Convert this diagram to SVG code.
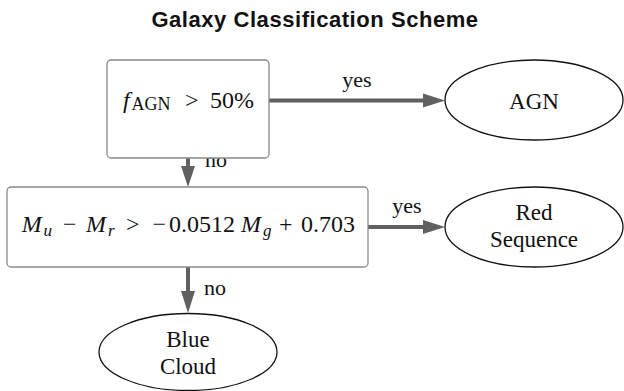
<svg xmlns="http://www.w3.org/2000/svg" width="624" height="391" viewBox="0 0 624 391">
<defs>
<style>
.title{font-family:"Liberation Sans",Arial,sans-serif;font-weight:bold;font-size:22px;letter-spacing:0.55px;fill:#111;}
.t{font-family:"Liberation Serif","Times New Roman",serif;font-size:23px;fill:#111;}
.m{font-family:"Liberation Serif","Times New Roman",serif;font-size:24px;fill:#111;}
.lbl{font-family:"Liberation Serif","Times New Roman",serif;font-size:22px;fill:#111;}
.it{font-style:italic;}
.sub{font-size:17px;}
.box{fill:#fff;stroke:#8a8a8a;stroke-width:1.3;}
.ell{fill:#fff;stroke:#111;stroke-width:1.3;}
.edge{stroke:#606060;stroke-width:4;fill:none;}
.head{fill:#606060;stroke:none;}
</style>
</defs>
<rect width="624" height="391" fill="#fff"/>
<text class="title" x="315" y="26.5" text-anchor="middle">Galaxy Classification Scheme</text>

<g id="connectors">
  <line class="edge" x1="269" y1="100.5" x2="425" y2="100.5"/>
  <polygon class="head" points="423,93.5 445,100.5 423,107.5"/>
  <text class="lbl" x="357" y="87" text-anchor="middle">yes</text>

  <line class="edge" x1="188" y1="158" x2="188" y2="168"/>
  <polygon class="head" points="181,166 195,166 188,187"/>
  <text class="lbl" x="216" y="167" text-anchor="middle">no</text>

  <line class="edge" x1="368" y1="227" x2="425" y2="227"/>
  <polygon class="head" points="423,220 445,227 423,234"/>
  <text class="lbl" x="407" y="213" text-anchor="middle">yes</text>

  <line class="edge" x1="188" y1="267" x2="188" y2="293"/>
  <polygon class="head" points="181,291 195,291 188,313"/>
  <text class="lbl" x="215" y="295" text-anchor="middle">no</text>
</g>

<g id="node-agn-test">
  <rect class="box" x="107" y="60" width="162" height="98" rx="4"/>
  <text class="m" y="107.5"><tspan class="it" x="123">f</tspan><tspan font-size="18" x="131.5" dy="2.5">AGN</tspan><tspan x="185" dy="-2.5">&gt;</tspan><tspan x="210">50%</tspan></text>
</g>

<g id="node-color-test">
  <rect class="box" x="7" y="187" width="361" height="80" rx="4"/>
  <text class="m" y="232"><tspan class="it" x="21.7">M</tspan><tspan class="it sub" x="43.5" dy="4">u</tspan><tspan x="63" dy="-4">−</tspan><tspan class="it" x="86">M</tspan><tspan class="it sub" x="108" dy="4">r</tspan><tspan x="126" dy="-4">&gt;</tspan><tspan x="152.5">−</tspan><tspan x="169">0.0512</tspan><tspan class="it" x="241">M</tspan><tspan class="it sub" x="263" dy="4">g</tspan><tspan x="279" dy="-4">+</tspan><tspan x="301">0.703</tspan></text>
</g>

<g id="node-agn">
  <ellipse class="ell" cx="534" cy="100" rx="89" ry="40"/>
  <text class="t" x="534" y="109" text-anchor="middle">AGN</text>
</g>

<g id="node-red-sequence">
  <ellipse class="ell" cx="534" cy="227" rx="89" ry="40"/>
  <text class="t" x="534" y="220" text-anchor="middle">Red</text>
  <text class="t" x="534" y="247" text-anchor="middle">Sequence</text>
</g>

<g id="node-blue-cloud">
  <ellipse class="ell" cx="188" cy="352" rx="89" ry="38.5"/>
  <text class="t" x="188" y="347" text-anchor="middle">Blue</text>
  <text class="t" x="188" y="374" text-anchor="middle">Cloud</text>
</g>
</svg>
